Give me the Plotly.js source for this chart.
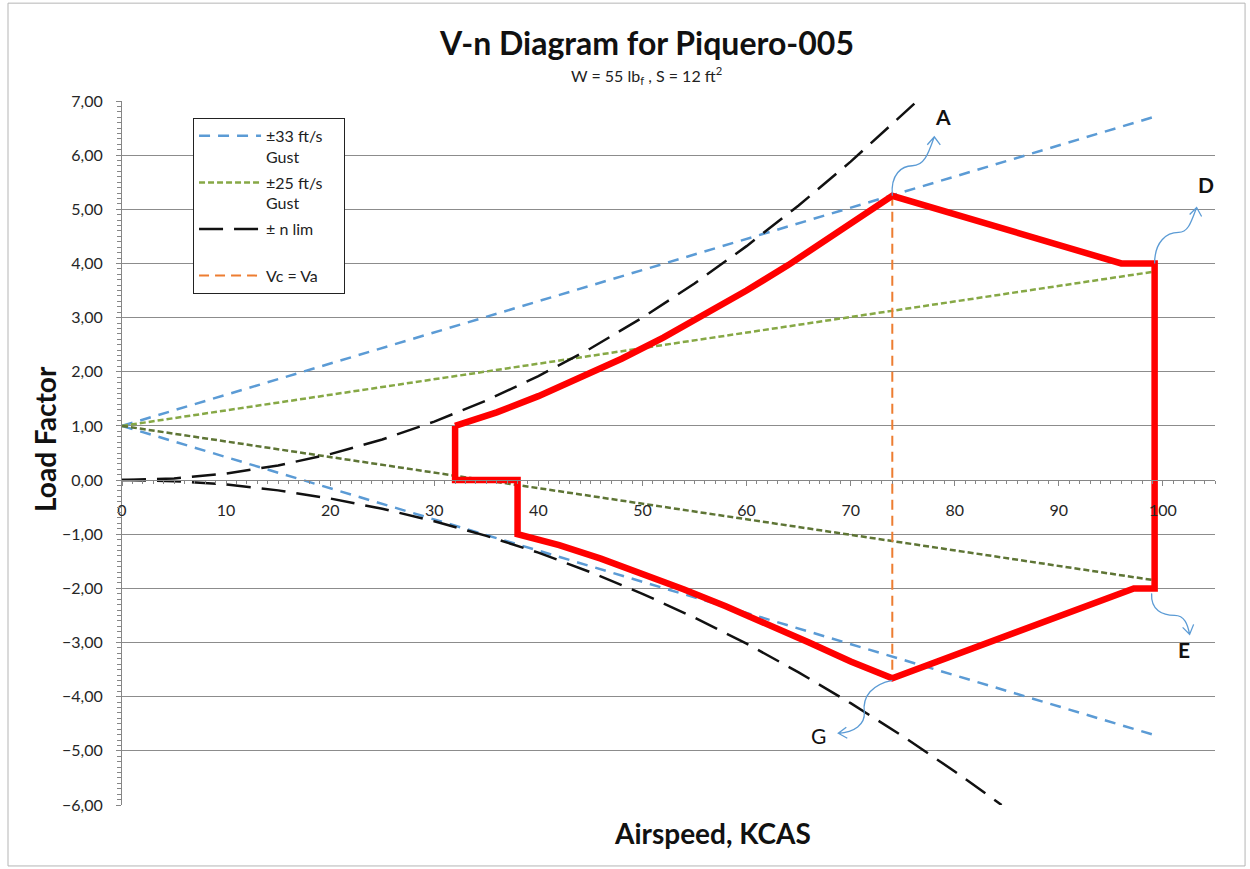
<!DOCTYPE html>
<html>
<head>
<meta charset="utf-8">
<script src="https://cdn.plot.ly/plotly-3.0.1.min.js"></script>
<style>
  html, body { margin: 0; padding: 0; background: #ffffff; }
  #chart { width: 1250px; height: 869px; }
</style>
</head>
<body>
<div id="chart"></div>
<script>
// ---------- data ----------
const gustSpeeds = [0, 99.2];                 // KCAS, from 0 to V_D
const gust33Pos = [1, 6.71];
const gust33Neg = [1, -4.71];
const gust25Pos = [1, 3.85];
const gust25Neg = [1, -1.85];

const nlimPosSpeeds = [0, 5, 10, 15, 20, 25, 30, 35, 40, 45, 50, 55, 60, 65, 70, 76.4];
const nlimPosValues = [0, 0.03, 0.12, 0.27, 0.48, 0.75, 1.08, 1.47, 1.92, 2.43, 3.0, 3.63, 4.32, 5.07, 5.88, 7.0];
const nlimNegSpeeds = [0, 5, 10, 15, 20, 25, 30, 35, 40, 45, 50, 55, 60, 65, 70, 75, 80, 84.5];
const nlimNegValues = [0, -0.02, -0.08, -0.19, -0.34, -0.53, -0.76, -1.03, -1.34, -1.70, -2.10, -2.54, -3.02, -3.55, -4.12, -4.73, -5.38, -6.0];

const vcSpeeds = [74, 74];
const vcValues = [5.25, -3.66];

const envelopeSpeeds = [32, 36, 40, 44, 48, 52, 56, 60, 64, 68, 72, 74, 96, 99.2, 99.2, 97.2, 74, 70, 66, 62, 58, 54, 50, 46, 42, 38, 38, 32, 32];
const envelopeValues = [1.0, 1.25, 1.55, 1.88, 2.24, 2.63, 3.05, 3.5, 3.97, 4.48, 5.0, 5.25, 4.0, 4.0, -2.0, -2.0, -3.66, -3.35, -3.0, -2.66, -2.33, -2.02, -1.73, -1.45, -1.2, -1.0, 0, 0, 1.0];

const pointLabels = ['A', 'D', 'E', 'G'];
const pointSpeeds = [74, 99.2, 99.2, 74];
const pointValues = [5.25, 4.0, -2.0, -3.66];
const labelSpeeds = [78.9, 104.1, 102.0, 66.9];
const labelValues = [6.71, 5.46, -3.13, -4.72];

const xTicks = [0, 10, 20, 30, 40, 50, 60, 70, 80, 90, 100];
const yTicks = [-6, -5, -4, -3, -2, -1, 0, 1, 2, 3, 4, 5, 6, 7];

// ---------- styles ----------
const FONT = 'Lato, "Open Sans", "DejaVu Sans", sans-serif';
const BLUE = '#5B9BD5', GREEN_P = '#86A845', GREEN_N = '#5E7535', ORANGE = '#ED7D31';
const NB = '&#160;';

const traces = [
  {x: gustSpeeds, y: gust33Pos, mode: 'lines', name: '±33 ft/s' + NB.repeat(4) + '<br>Gust', legendgroup: 'g33',
   line: {color: BLUE, width: 2.5, dash: '11px,8px'}},
  {x: gustSpeeds, y: gust33Neg, mode: 'lines', name: '±33 ft/s Gust', legendgroup: 'g33', showlegend: false,
   line: {color: BLUE, width: 2.5, dash: '11px,8px'}},
  {x: gustSpeeds, y: gust25Pos, mode: 'lines', name: '±25 ft/s<br>Gust', legendgroup: 'g25',
   line: {color: GREEN_P, width: 2.5, dash: '6px,3px'}},
  {x: gustSpeeds, y: gust25Neg, mode: 'lines', name: '±25 ft/s Gust', legendgroup: 'g25', showlegend: false,
   line: {color: GREEN_N, width: 2.5, dash: '6px,3px'}},
  {x: nlimPosSpeeds, y: nlimPosValues, mode: 'lines', name: '± n lim<br>' + NB, legendgroup: 'nl',
   line: {color: '#111111', width: 2.5, dash: '24px,11px'}},
  {x: nlimNegSpeeds, y: nlimNegValues, mode: 'lines', name: '± n lim', legendgroup: 'nl', showlegend: false,
   line: {color: '#111111', width: 2.5, dash: '24px,11px'}},
  {x: vcSpeeds, y: vcValues, mode: 'lines', name: 'Vc = Va', legendgroup: 'vc',
   line: {color: ORANGE, width: 2, dash: '10px,6px'}},
  {x: envelopeSpeeds, y: envelopeValues, mode: 'lines', name: 'Envelope', showlegend: false,
   line: {color: '#FF0000', width: 6.5}}
];

// wavy arrows (pixel offsets anchored to the envelope corners)
const arrowPaths = [
  'M0,0 C-2,22 10,30 20,30 C32,30 36,42 42,59 M35,51 L42,59 L48,51',
  'M0,0 C0,22 12,31 24,31 C34,31 37,43 42,56 M35,49 L42,56 L47,47',
  'M-3,-5 C-4,-22 8,-27 20,-27 C30,-27 33,-36 35,-46 M28,-39 L35,-46 L39,-36',
  'M0,-2 C-20,-6 -30,-18 -28,-34 C-27,-46 -38,-54 -54,-55 M-46,-49 L-54,-55 L-45,-60'
];
const shapes = arrowPaths.map((p, i) => ({
  type: 'path', xref: 'x', yref: 'y', xsizemode: 'pixel', ysizemode: 'pixel',
  xanchor: pointSpeeds[i], yanchor: pointValues[i], path: p,
  line: {color: '#5B9BD5', width: 1.3}
}));
// outer chart border
shapes.push({type: 'rect', xref: 'paper', yref: 'paper',
  x0: -0.1043, x1: 1.0275, y0: -0.0866, y1: 1.139,
  line: {color: '#b5b5b5', width: 1}, layer: 'below'});

const annotations = pointLabels.map((t, i) => ({
  x: labelSpeeds[i], y: labelValues[i], xref: 'x', yref: 'y', text: t, showarrow: false,
  xanchor: 'center', yanchor: 'middle',
  font: {family: FONT, size: 21, color: '#111111', weight: i === 3 ? 'normal' : 'bold'}
}));
annotations.push(
  {xref: 'paper', yref: 'paper', x: 0.48, y: 1.0835, xanchor: 'center', yanchor: 'middle',
   text: 'V-n Diagram for Piquero-005', showarrow: false,
   font: {family: FONT, size: 32, color: '#111111', weight: 'bold'}},
  {xref: 'paper', yref: 'paper', x: 0.48, y: 1.036, xanchor: 'center', yanchor: 'middle',
   text: 'W = 55 lb<sub>f</sub> , S = 12 ft<sup>2</sup>', showarrow: false,
   font: {family: FONT, size: 16, color: '#222222'}},
  {xref: 'paper', yref: 'paper', x: -0.0704, y: 0.52, xanchor: 'center', yanchor: 'middle',
   text: 'Load Factor', textangle: -90, showarrow: false,
   font: {family: FONT, size: 28, color: '#111111', weight: 'bold'}},
  {xref: 'paper', yref: 'paper', x: 0.54, y: -0.0398, xanchor: 'center', yanchor: 'middle',
   text: 'Airspeed, KCAS', showarrow: false,
   font: {family: FONT, size: 28, color: '#111111', weight: 'bold'}}
);

const layout = {
  width: 1250, height: 869,
  margin: {l: 122, r: 35, t: 101, b: 64},
  paper_bgcolor: '#ffffff', plot_bgcolor: '#ffffff',
  separators: ',.',
  font: {family: FONT, size: 16, color: '#262626'},
  showlegend: true,
  legend: {x: 0.065, y: 0.976, xanchor: 'left', yanchor: 'top',
    bgcolor: '#ffffff', bordercolor: '#222222', borderwidth: 1,
    itemwidth: 62,
    font: {family: FONT, size: 16, color: '#222222'}, valign: 'top', tracegroupgap: 2},
  xaxis: {
    range: [0, 105], anchor: 'free', position: 6 / 13,
    tickvals: xTicks, tickformat: 'd', showgrid: false, zeroline: false,
    showline: true, linecolor: '#868686', linewidth: 1,
    ticks: 'outside', ticklen: 5, tickcolor: '#868686', ticklabelstandoff: 11,
    minor: {dtick: 1, ticks: 'outside', ticklen: 3, tickcolor: '#868686', showgrid: false},
    tickfont: {family: FONT, size: 16, color: '#262626'}
  },
  yaxis: {
    range: [-6, 7], tickvals: yTicks, tickformat: '.2f',
    showgrid: true, gridcolor: '#8c8c8c', gridwidth: 1, zeroline: false,
    showline: true, linecolor: '#868686', linewidth: 1,
    ticks: 'outside', ticklen: 5, tickcolor: '#868686', ticklabelstandoff: 10,
    minor: {dtick: 0.1, ticks: 'outside', ticklen: 4, tickcolor: '#868686', showgrid: false},
    tickfont: {family: FONT, size: 16, color: '#262626'}
  },
  shapes: shapes,
  annotations: annotations
};

Plotly.newPlot('chart', traces, layout, {displayModeBar: false, staticPlot: true});
</script>
</body>
</html>
